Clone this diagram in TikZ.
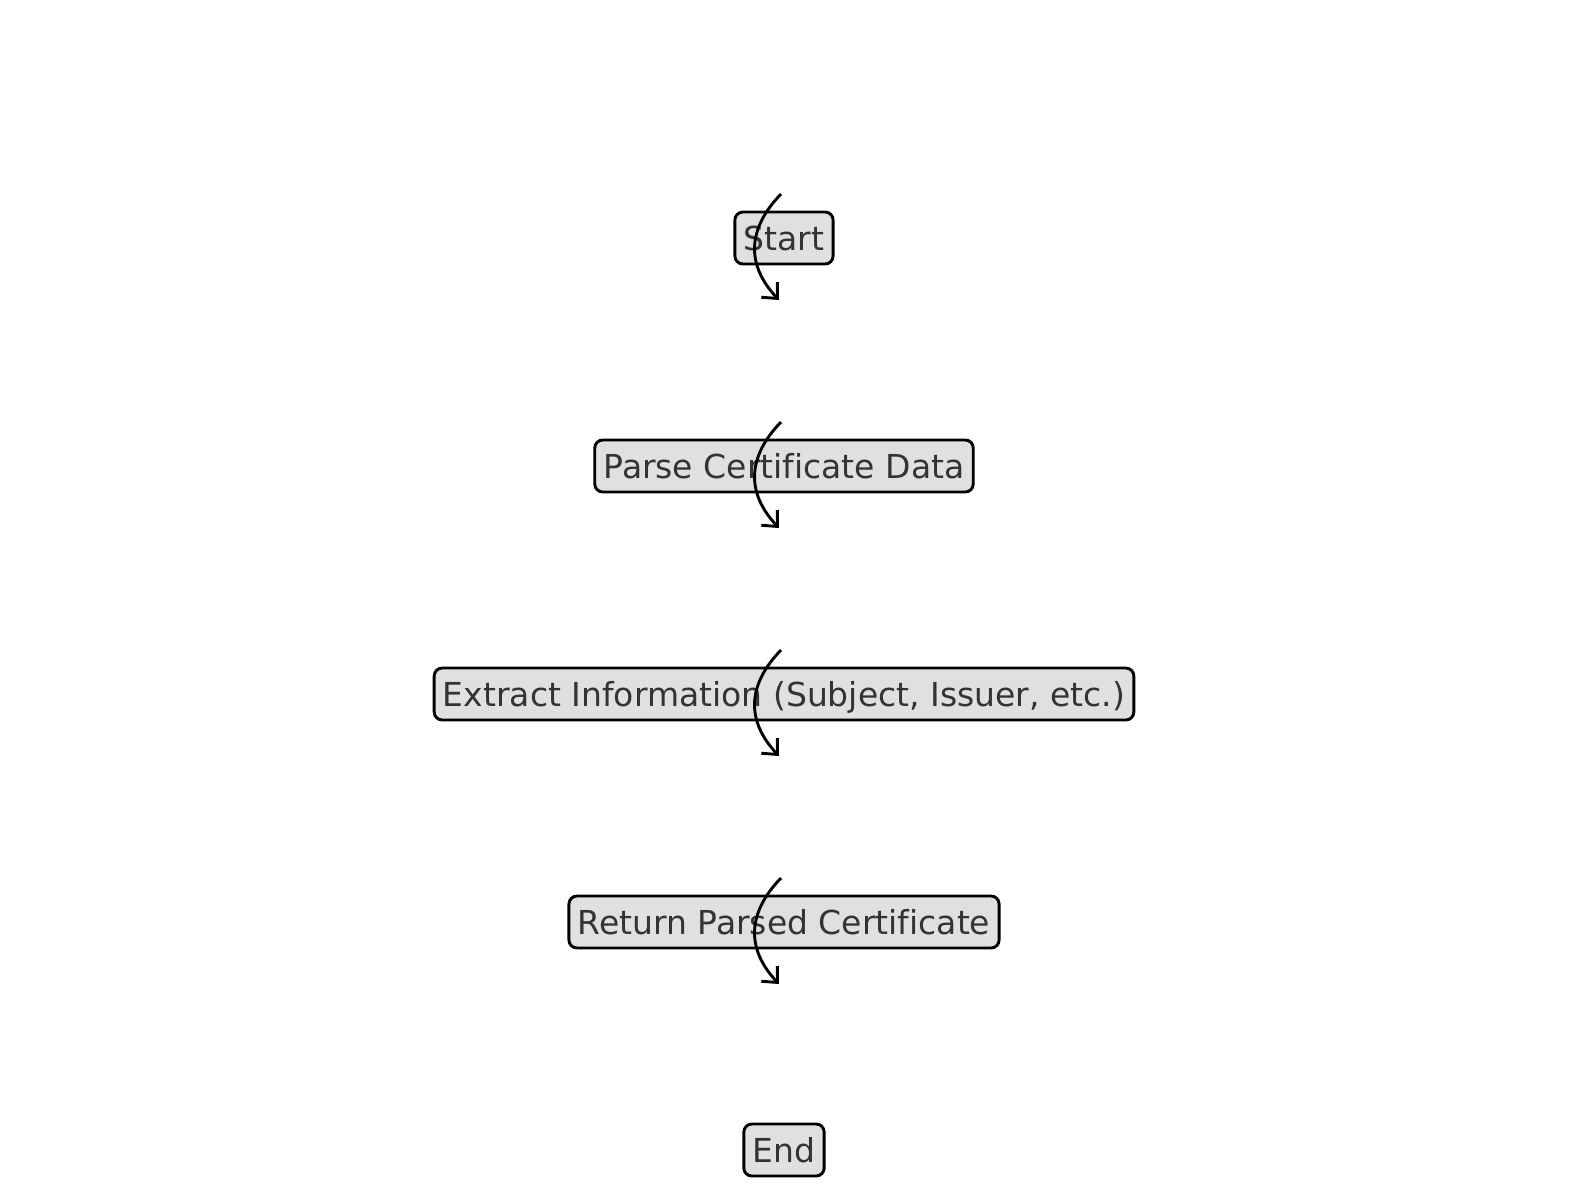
\documentclass[tikz,border=0pt]{standalone}
\usepackage{fontspec}
\setmainfont{DejaVu Sans}[Ligatures=NoCommon]
\usetikzlibrary{arrows.meta,calc}
\definecolor{boxfill}{HTML}{E0E0E0}
\definecolor{boxtext}{HTML}{333333}
\tikzset{
  stepbox/.style={draw=black, line width=2.9pt, fill=boxfill, rounded corners=8pt,
    text=boxtext, font=\fontsize{33}{40}\selectfont, inner xsep=8.8pt,
    minimum height=52pt, text depth=0pt, anchor=center},
  flowarrow/.style={line width=2.9pt, -{Straight Barb[length=12pt,width=22pt,line width=2.9pt]}}
}
\begin{document}
\begin{tikzpicture}[x=1pt,y=-1pt]
\useasboundingbox (0,0) rectangle (1589,1202);
\node[stepbox] (start) at (784,238) {Start};
\node[stepbox] (parse) at (784,466) {Parse Certificate Data};
\node[stepbox] (extract) at (784,694) {Extract Information (Subject, Issuer, etc.)};
\node[stepbox] (ret) at (784,922) {Return Parsed Certificate};
\node[stepbox] (end) at (784,1150) {End};
\foreach \n in {start,parse,extract,ret}{
  \coordinate (\n-a) at ($(\n.center)+(-3,-44)$);
  \coordinate (\n-b) at ($(\n.center)+(-5,62)$);
  \draw[flowarrow] (\n-a) .. controls ($(\n-a)+(-34,35)$) and ($(\n-b)+(-33,-35)$) .. (\n-b);
}
\end{tikzpicture}
\end{document}
